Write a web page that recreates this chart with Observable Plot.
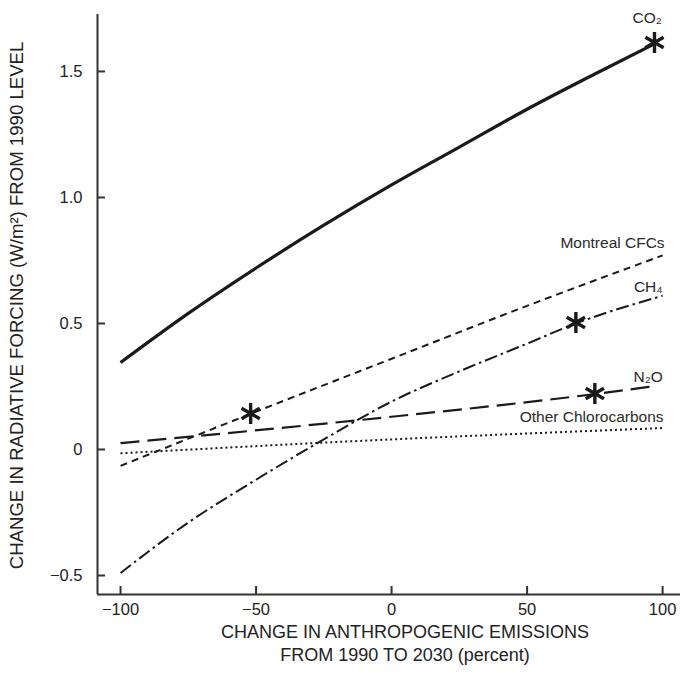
<!DOCTYPE html>
<html><head><meta charset="utf-8">
<script src="https://cdn.jsdelivr.net/npm/d3@7"></script>
<script src="https://cdn.jsdelivr.net/npm/@observablehq/plot@0.6"></script>
<style>body{margin:0;background:#fff;}</style>
</head><body><div id="chart"></div>
<script>
// ---- data ----
const seriesNames = ["CO₂", "Montreal CFCs", "CH₄", "N₂O", "Other Chlorocarbons"];
const co2X = [-100, -75, -50, -25, 0, 25, 50, 75, 98];
const co2Y = [0.345, 0.54, 0.72, 0.89, 1.05, 1.20, 1.35, 1.49, 1.615];
const cfcX = [-100, -50, 0, 50, 100];
const cfcY = [-0.065, 0.15, 0.36, 0.57, 0.77];
const ch4X = [-100, -75, -50, -25, 0, 25, 50, 68, 100];
const ch4Y = [-0.49, -0.29, -0.12, 0.04, 0.19, 0.31, 0.42, 0.50, 0.61];
const n2oX = [-100, 0, 75, 96];
const n2oY = [0.025, 0.13, 0.22, 0.25];
const otherX = [-100, 0, 100];
const otherY = [-0.015, 0.04, 0.085];

const starSeries = ["CO₂", "Montreal CFCs", "CH₄", "N₂O"];
const starX = [97, -52, 68, 75];
const starY = [1.615, 0.143, 0.504, 0.222];

const xTicks = [-100, -50, 0, 50, 100];
const xTickLabels = ["−100", "−50", "0", "50", "100"];
const yTicks = [-0.5, 0, 0.5, 1.0, 1.5];
const yTickLabels = ["−0.5", "0", "0.5", "1.0", "1.5"];

const xTitle1 = "CHANGE IN ANTHROPOGENIC EMISSIONS";
const xTitle2 = "FROM 1990 TO 2030 (percent)";
const yTitle = "CHANGE IN RADIATIVE FORCING (W/m²) FROM 1990 LEVEL";

const xDomain = [-108.5, 106.6];
const yDomain = [-0.5754, 1.726];

// ---- build tables ----
const seriesXs = [co2X, cfcX, ch4X, n2oX, otherX];
const seriesYs = [co2Y, cfcY, ch4Y, n2oY, otherY];
const rows = seriesNames.flatMap((s, i) => seriesXs[i].map((x, j) => ({series: s, x, y: seriesYs[i][j]})));
const stars = starSeries.map((s, i) => ({series: s, x: starX[i], y: starY[i]}));
const lastPoints = seriesNames.map((s, i) => ({series: s, x: seriesXs[i].at(-1), y: seriesYs[i].at(-1)}));

// styles per series
const styles = {
  "CO₂": {strokeWidth: 3.2, strokeDasharray: null},
  "Montreal CFCs": {strokeWidth: 2, strokeDasharray: "7,5"},
  "CH₄": {strokeWidth: 2, strokeDasharray: "13,4,2.5,4"},
  "N₂O": {strokeWidth: 2.2, strokeDasharray: "19,8"},
  "Other Chlorocarbons": {strokeWidth: 2, strokeDasharray: "2,3"}
};
const labelOffsets = {
  "CO₂": {dx: -10, dy: -24, anchor: "middle"},
  "Montreal CFCs": {dx: 2, dy: -12, anchor: "end"},
  "CH₄": {dx: 0, dy: -9, anchor: "end"},
  "N₂O": {dx: 11, dy: -9, anchor: "end"},
  "Other Chlorocarbons": {dx: 1, dy: -11, anchor: "end"}
};

const ink = "#1a1a1a";
const W = 681, H = 689, ML = 97, MR = 1, MT = 14, MB = 95;
const frameW = W - ML - MR, frameH = H - MT - MB;

const marks = [];
// frame lines (left and bottom)
marks.push(Plot.ruleX([xDomain[0]], {stroke: "#333", strokeWidth: 2}));
marks.push(Plot.ruleY([yDomain[0]], {stroke: "#333", strokeWidth: 2}));
// inward ticks
marks.push(Plot.tickX(xTicks, {x: d => d, insetTop: frameH - 8, stroke: "#333", strokeWidth: 2}));
marks.push(Plot.tickY(yTicks, {y: d => d, insetRight: frameW - 8, stroke: "#333", strokeWidth: 2}));
// tick labels
marks.push(Plot.axisX(xTicks, {tickSize: 0, tickPadding: 9, fontSize: 16.5, label: null, tickFormat: d => xTickLabels[xTicks.indexOf(d)], fill: "#222"}));
marks.push(Plot.axisY(yTicks, {tickSize: 0, tickPadding: 15, fontSize: 16.5, label: null, tickFormat: d => yTickLabels[yTicks.indexOf(d)], fill: "#222"}));
// series lines
for (const s of seriesNames) {
  marks.push(Plot.line(rows.filter(r => r.series === s), {x: "x", y: "y", stroke: ink, strokeWidth: styles[s].strokeWidth, strokeDasharray: styles[s].strokeDasharray, curve: "monotone-x", strokeLinecap: "butt"}));
}
// stars
marks.push(Plot.dot(stars, {x: "x", y: "y", symbol: "asterisk", r: 10, stroke: ink, strokeWidth: 3.4}));
// series labels
for (const p of lastPoints) {
  const o = labelOffsets[p.series];
  marks.push(Plot.text([p], {x: "x", y: "y", text: "series", dx: o.dx, dy: o.dy, textAnchor: o.anchor, fontSize: 15.5, fill: "#2a2a2a"}));
}
// axis titles
marks.push(Plot.text([xTitle1], {text: d => d, frameAnchor: "bottom", textAnchor: "middle", dx: 16, dy: 43, fontSize: 18, fill: "#222"}));
marks.push(Plot.text([xTitle2], {text: d => d, frameAnchor: "bottom", textAnchor: "middle", dx: 16, dy: 66, fontSize: 18, fill: "#222"}));
marks.push(Plot.text([yTitle], {text: d => d, frameAnchor: "left", textAnchor: "middle", dx: -80, dy: 1, rotate: -90, fontSize: 18.6, fill: "#222"}));

const chart = Plot.plot({
  width: W, height: H,
  marginLeft: ML, marginRight: MR, marginTop: MT, marginBottom: MB,
  x: {domain: xDomain},
  y: {domain: yDomain},
  style: {fontFamily: "'Liberation Sans', Arial, sans-serif", background: "#fff", color: ink, overflow: "visible"},
  marks
});
document.getElementById("chart").appendChild(chart);
</script>
</body></html>
